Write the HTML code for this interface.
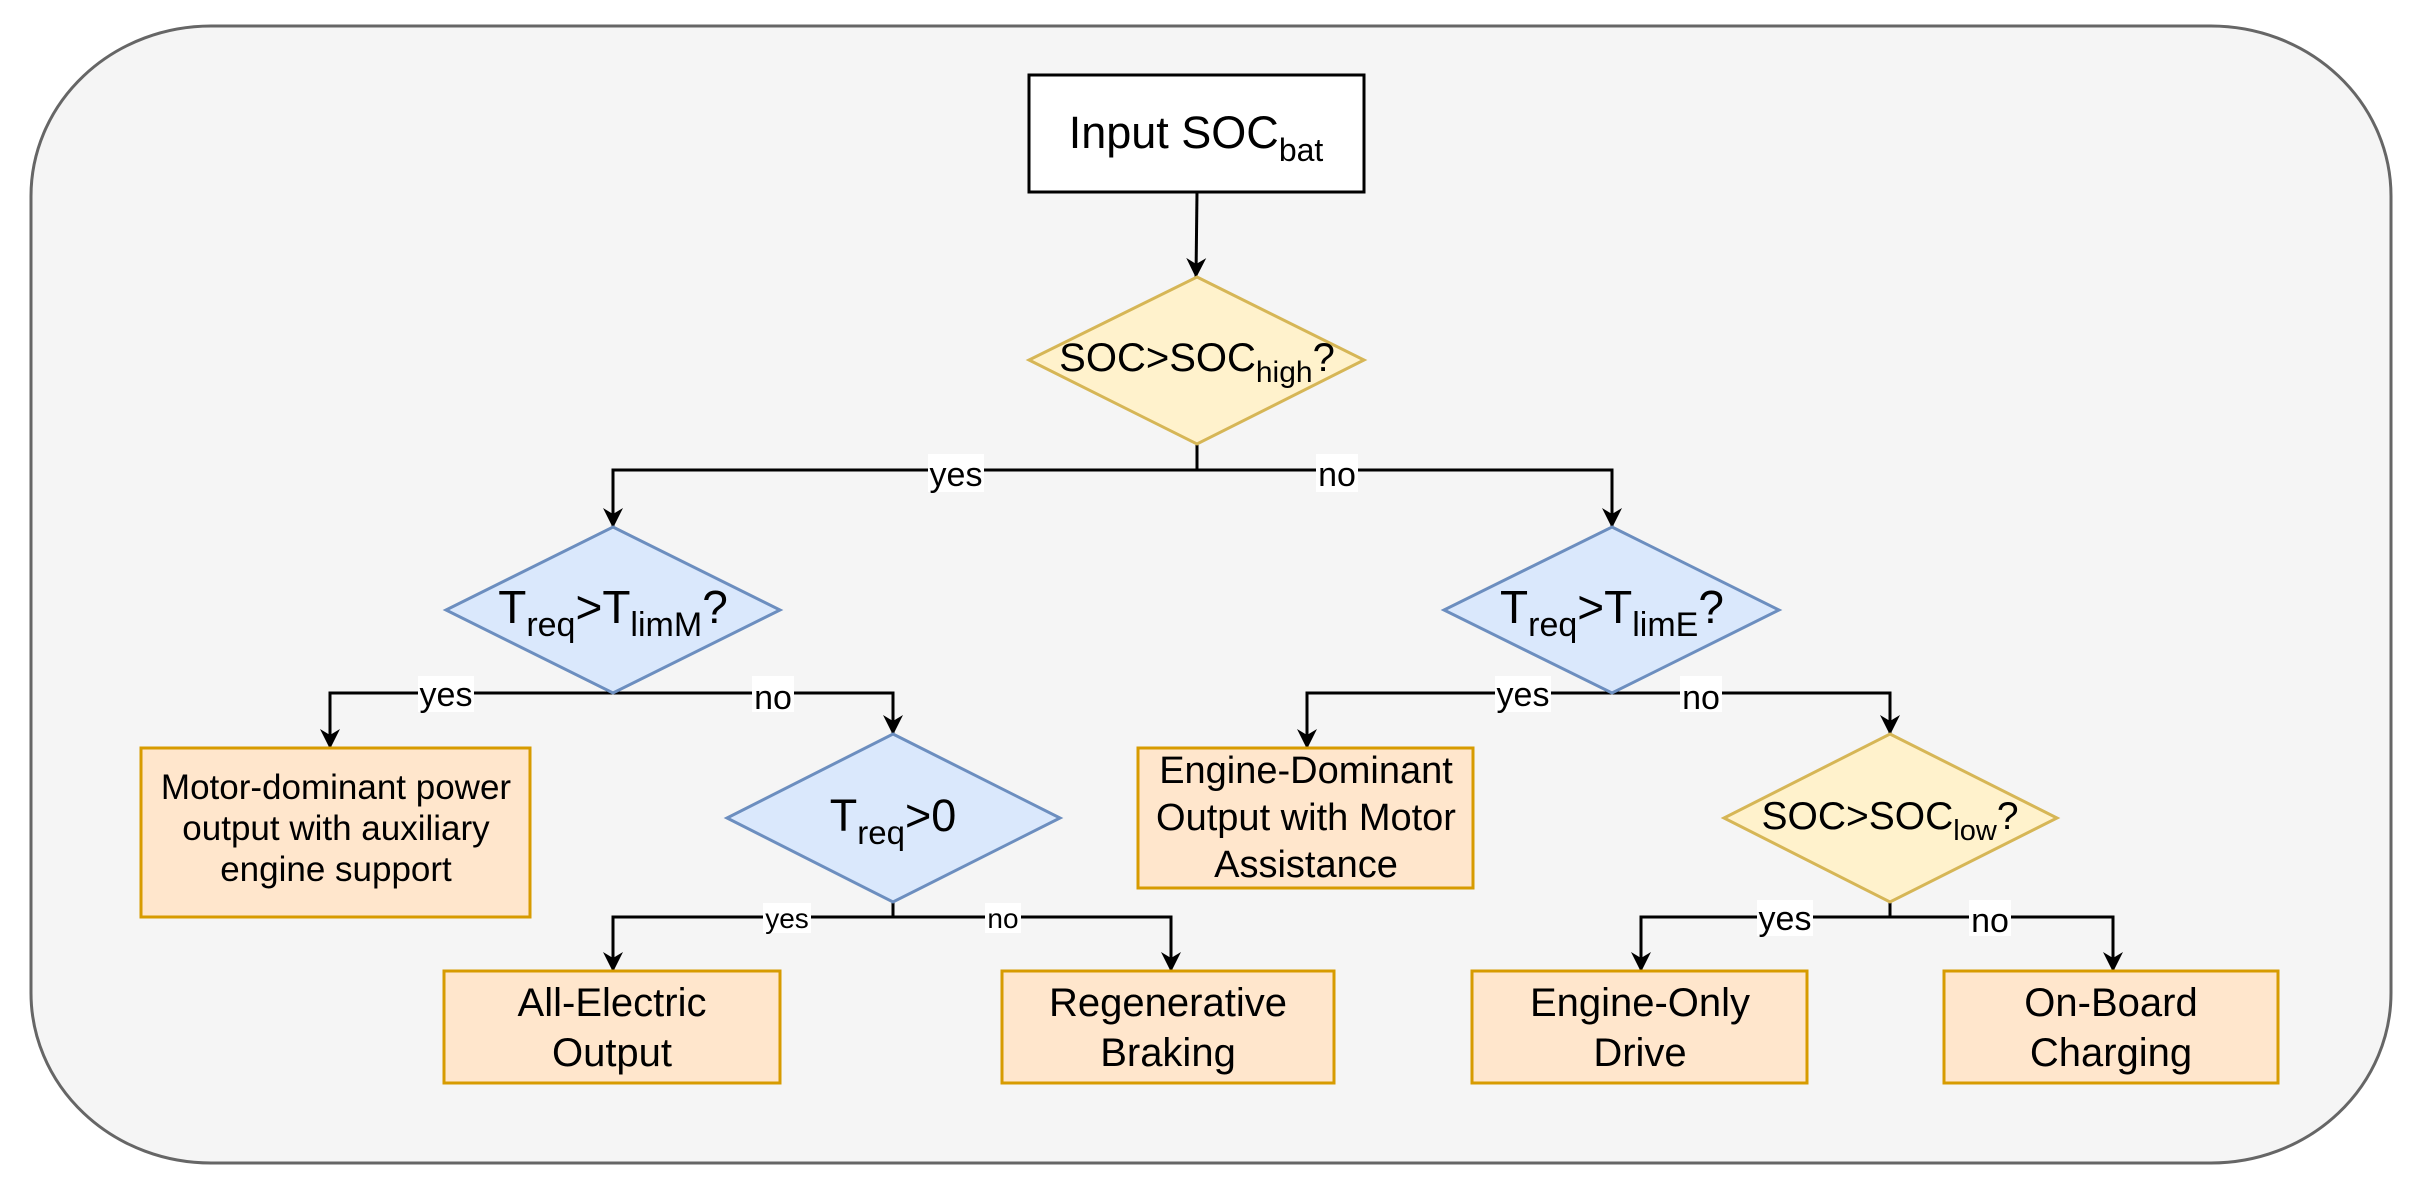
<!DOCTYPE html>
<html><head><meta charset="utf-8"><style>
html,body{margin:0;padding:0;background:#fff;}
svg{display:block;font-family:"Liberation Sans",Arial,sans-serif;}
.t{fill:#000;text-anchor:middle;}
.lb{fill:#fff;}
</style></head><body>
<svg width="2409" height="1192" viewBox="0 0 2409 1192" xmlns="http://www.w3.org/2000/svg">
<defs>
<marker id="a" viewBox="0 0 20 26" refX="19" refY="13" markerWidth="26" markerHeight="26" markerUnits="userSpaceOnUse" orient="auto">
<path d="M0,3 L20,13 L0,23 L6,13 Z" fill="#000"/>
</marker>
</defs>
<rect x="31" y="26" width="2360" height="1137" rx="180" ry="170" fill="#f5f5f5" stroke="#666" stroke-width="3"/>

<g stroke="#000" stroke-width="3" fill="none">
<path d="M1197 192 L1196 277" marker-end="url(#a)"/>
<path d="M1197 444 L1197 470"/>
<path d="M1197 470 L613 470 L613 527" marker-end="url(#a)"/>
<path d="M1197 470 L1612 470 L1612 527" marker-end="url(#a)"/>
<path d="M613 693 L330 693 L330 748" marker-end="url(#a)"/>
<path d="M613 693 L893 693 L893 734" marker-end="url(#a)"/>
<path d="M893 902 L893 917"/>
<path d="M893 917 L613 917 L613 971" marker-end="url(#a)"/>
<path d="M893 917 L1171 917 L1171 971" marker-end="url(#a)"/>
<path d="M1612 693 L1307 693 L1307 748" marker-end="url(#a)"/>
<path d="M1612 693 L1890 693 L1890 734" marker-end="url(#a)"/>
<path d="M1890 902 L1890 917"/>
<path d="M1890 917 L1641 917 L1641 971" marker-end="url(#a)"/>
<path d="M1890 917 L2113 917 L2113 971" marker-end="url(#a)"/>
</g>

<rect x="1029" y="75" width="335" height="117" fill="#fff" stroke="#000" stroke-width="3"/>
<text class="t" x="1196" y="148" font-size="45">Input SOC<tspan font-size="32" dy="13">bat</tspan></text>

<polygon points="1197,277 1364,360 1197,444 1029,360" fill="#fff2cc" stroke="#d6b656" stroke-width="3"/>
<text class="t" x="1197" y="371" font-size="40">SOC&gt;SOC<tspan font-size="30" dy="11">high</tspan><tspan dy="-11">?</tspan></text>

<polygon points="613,527 780,610 613,693 446,610" fill="#dae8fc" stroke="#6c8ebf" stroke-width="3"/>
<text class="t" x="613" y="623" font-size="46">T<tspan font-size="34" dy="13">req</tspan><tspan dy="-13">&gt;T</tspan><tspan font-size="34" dy="13">limM</tspan><tspan dy="-13">?</tspan></text>

<polygon points="1612,527 1779,610 1612,693 1444,610" fill="#dae8fc" stroke="#6c8ebf" stroke-width="3"/>
<text class="t" x="1612" y="623" font-size="46">T<tspan font-size="34" dy="13">req</tspan><tspan dy="-13">&gt;T</tspan><tspan font-size="34" dy="13">limE</tspan><tspan dy="-13">?</tspan></text>

<polygon points="893,734 1060,818 893,902 727,818" fill="#dae8fc" stroke="#6c8ebf" stroke-width="3"/>
<text class="t" x="893" y="831" font-size="45">T<tspan font-size="33" dy="13">req</tspan><tspan dy="-13">&gt;0</tspan></text>

<polygon points="1890,734 2057,818 1890,902 1724,818" fill="#fff2cc" stroke="#d6b656" stroke-width="3"/>
<text class="t" x="1890" y="829" font-size="39">SOC&gt;SOC<tspan font-size="29" dy="11">low</tspan><tspan dy="-11">?</tspan></text>

<g fill="#ffe6cc" stroke="#d79b00" stroke-width="3">
<rect x="141" y="748" width="389" height="169"/>
<rect x="1138" y="748" width="335" height="140"/>
<rect x="444" y="971" width="336" height="112"/>
<rect x="1002" y="971" width="332" height="112"/>
<rect x="1472" y="971" width="335" height="112"/>
<rect x="1944" y="971" width="334" height="112"/>
</g>
<g font-size="35">
<text class="t" x="336" y="799">Motor-dominant power</text>
<text class="t" x="336" y="840">output with auxiliary</text>
<text class="t" x="336" y="881">engine support</text>
</g>
<g font-size="38">
<text class="t" x="1306" y="783">Engine-Dominant</text>
<text class="t" x="1306" y="830">Output with Motor</text>
<text class="t" x="1306" y="877">Assistance</text>
</g>
<g font-size="40">
<text class="t" x="612" y="1016">All-Electric</text>
<text class="t" x="612" y="1066">Output</text>
<text class="t" x="1168" y="1016">Regenerative</text>
<text class="t" x="1168" y="1066">Braking</text>
<text class="t" x="1640" y="1016">Engine-Only</text>
<text class="t" x="1640" y="1066">Drive</text>
<text class="t" x="2111" y="1016">On-Board</text>
<text class="t" x="2111" y="1066">Charging</text>
</g>

<g font-size="34">
<rect class="lb" x="928" y="454" width="56" height="38"/><text class="t" x="956" y="486">yes</text>
<rect class="lb" x="1316" y="454" width="42" height="38"/><text class="t" x="1337" y="486">no</text>
<rect class="lb" x="418" y="676" width="56" height="36"/><text class="t" x="446" y="706">yes</text>
<rect class="lb" x="752" y="676" width="42" height="36"/><text class="t" x="773" y="709">no</text>
<rect class="lb" x="1495" y="676" width="56" height="36"/><text class="t" x="1523" y="706">yes</text>
<rect class="lb" x="1680" y="676" width="42" height="36"/><text class="t" x="1701" y="709">no</text>
<rect class="lb" x="1757" y="900" width="56" height="36"/><text class="t" x="1785" y="930">yes</text>
<rect class="lb" x="1969" y="900" width="42" height="36"/><text class="t" x="1990" y="932">no</text>
</g>
<g font-size="28">
<rect class="lb" x="763" y="903" width="48" height="30"/><text class="t" x="787" y="928">yes</text>
<rect class="lb" x="985" y="903" width="36" height="30"/><text class="t" x="1003" y="928">no</text>
</g>
</svg>
</body></html>
